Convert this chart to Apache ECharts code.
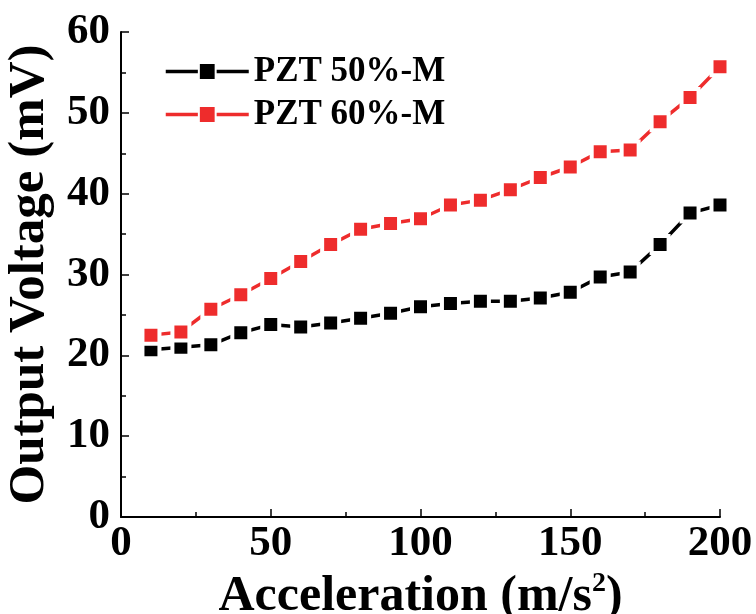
<!DOCTYPE html>
<html>
<head>
<meta charset="utf-8">
<script src="https://cdn.jsdelivr.net/npm/echarts@6/dist/echarts.min.js"></script>
<style>
  html, body { margin: 0; padding: 0; background: #fff; }
  #chart { width: 756px; height: 614px; }
</style>
</head>
<body>
<div id="chart"></div>
<script>
// Acceleration values (m/s^2)
const acceleration = [10, 20, 30, 40, 50, 60, 70, 80, 90, 100, 110, 120, 130, 140, 150, 160, 170, 180, 190, 200];
// Output voltage (mV) for each PZT sample
const pzt50 = [20.7, 21.0, 21.3, 22.8, 23.8, 23.5, 24.0, 24.6, 25.2, 26.0, 26.4, 26.7, 26.7, 27.1, 27.8, 29.7, 30.3, 33.7, 37.6, 38.6];
const pzt60 = [22.5, 22.9, 25.7, 27.5, 29.5, 31.6, 33.7, 35.6, 36.3, 36.9, 38.6, 39.2, 40.5, 42.0, 43.3, 45.2, 45.4, 48.9, 51.9, 55.7];
const seriesNames = ['PZT 50%-M', 'PZT 60%-M'];
const seriesColors = ['#000000', '#ee2c2c'];

const FONT = '"Liberation Serif", "Times New Roman", serif';

function pairs(xs, ys) {
  return xs.map((x, i) => [x, ys[i]]);
}

function makeSeries(name, values, color) {
  return {
    name: name,
    type: 'line',
    data: pairs(acceleration, values),
    symbol: 'rect',
    symbolSize: 17,
    clip: true,
    lineStyle: { color: color, width: 3.5 },
    itemStyle: { color: color, borderColor: '#ffffff', borderWidth: 4 },
    emphasis: { disabled: true },
    z: 2
  };
}

const axisText = { fontFamily: FONT, fontWeight: 'bold', fontSize: 43, color: '#000' };

const chart = echarts.init(document.getElementById('chart'), null, { renderer: 'canvas' });
chart.setOption({
  animation: false,
  backgroundColor: '#ffffff',
  grid: { left: 121, right: 36, top: 32, bottom: 97, containLabel: false, outerBoundsMode: 'none' },
  legend: {
    left: 159,
    top: 49,
    orient: 'vertical',
    itemWidth: 83,
    itemHeight: 21,
    itemGap: 8,
    data: seriesNames,
    lineStyle: { width: 3.5 },
    textStyle: { fontFamily: FONT, fontWeight: 'bold', fontSize: 35, color: '#000', lineHeight: 30, padding: [0, 0, 0, 0] }
  },
  xAxis: {
    type: 'value',
    min: 0,
    max: 200,
    interval: 50,
    name: '{t|Acceleration (m/s}{s|2}{t|)}',
    nameLocation: 'middle',
    nameGap: 48,
    nameTextStyle: {
      rich: {
        t: { fontFamily: FONT, fontWeight: 'bold', fontSize: 50, color: '#000' },
        s: { fontFamily: FONT, fontWeight: 'bold', fontSize: 28, color: '#000', verticalAlign: 'top', padding: [0, 0, 27, 0] }
      }
    },
    axisLine: { show: true, lineStyle: { color: '#000', width: 2 } },
    axisTick: { show: true, inside: true, length: 8, lineStyle: { color: '#000', width: 1.5 } },
    minorTick: { show: true, splitNumber: 2, length: 5, lineStyle: { color: '#000', width: 1.5 } },
    splitLine: { show: false },
    axisLabel: Object.assign({ margin: 5 }, axisText)
  },
  yAxis: {
    type: 'value',
    min: 0,
    max: 60,
    interval: 10,
    name: 'Output Voltage (mV)',
    nameLocation: 'middle',
    nameGap: 66,
    nameTextStyle: { fontFamily: FONT, fontWeight: 'bold', fontSize: 51, color: '#000' },
    axisLine: { show: true, lineStyle: { color: '#000', width: 2 } },
    axisTick: { show: true, inside: true, length: 8, lineStyle: { color: '#000', width: 1.5 } },
    minorTick: { show: true, splitNumber: 2, length: 5, lineStyle: { color: '#000', width: 1.5 } },
    splitLine: { show: false },
    axisLabel: Object.assign({ margin: 11 }, axisText)
  },
  series: [
    makeSeries(seriesNames[0], pzt50, seriesColors[0]),
    makeSeries(seriesNames[1], pzt60, seriesColors[1])
  ]
});
</script>
</body>
</html>
